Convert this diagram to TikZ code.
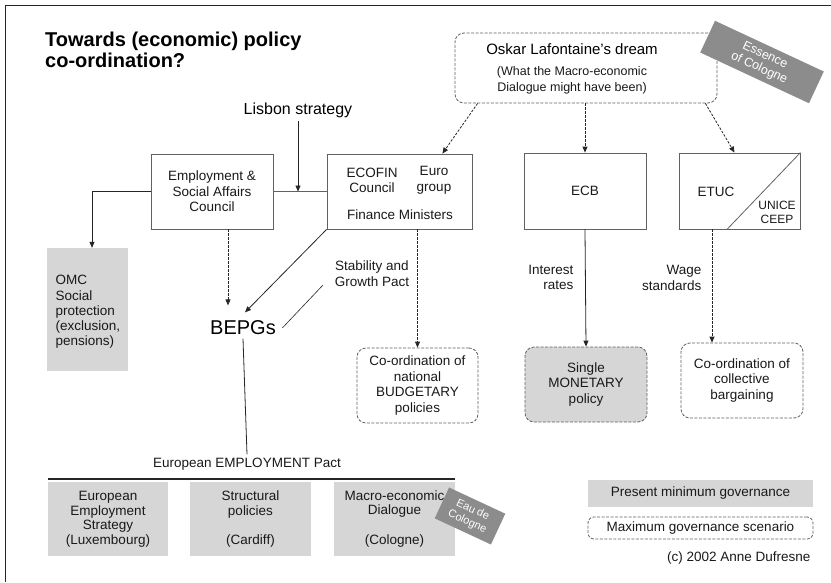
\documentclass[tikz,border=0pt]{standalone}
\usepackage{fontspec}
\setmainfont{Liberation Sans}
\usetikzlibrary{arrows.meta,calc}
\definecolor{tagg}{gray}{0.55}
\definecolor{boxg}{gray}{0.84}
\definecolor{bord}{gray}{0.38}
\tikzset{
  arr/.style={-{Triangle[length=6pt,width=5pt]}, line width=0.8pt, black!85},
  darr/.style={arr, dash pattern=on 2.5pt off 1.5pt},
  box/.style={draw=bord, line width=0.8pt, inner sep=0pt},
  dbox/.style={draw=bord, line width=0.8pt, dash pattern=on 3pt off 1.5pt, rounded corners=9pt, inner sep=0pt},
  gbox/.style={fill=boxg, draw=none, inner sep=0pt},
  txt/.style={font=\fontsize{13.5}{15.5}\selectfont, align=center, text=black!90},
  tagbox/.style={fill=tagg, text=white, align=center, rotate=-25, inner sep=0pt},
  plain/.style={draw=bord, line width=0.8pt}
}
\begin{document}
\begin{tikzpicture}[x=1pt,y=-1pt]
\useasboundingbox (0,0) rectangle (831,582);
\draw[line width=1pt, black!85] (5,582) -- (5,5) -- (831,5);

% title
\node[anchor=base west, inner sep=0pt, font=\bfseries\fontsize{20}{21}\selectfont] (title1) at (45,46) {Towards (economic) policy};
\node[anchor=base west, inner sep=0pt, font=\bfseries\fontsize{20}{21}\selectfont] (title2) at (45,67) {co-ordination?};

% Oskar
\node[dbox, minimum width=262pt, minimum height=70pt] (osk) at (586,68) {};
\node[font=\fontsize{15}{18}\selectfont] (oskt) at (572,49) {Oskar Lafontaine's dream};
\node[txt, font=\fontsize{12.5}{16}\selectfont] (osks) at (572,80) {(What the Macro-economic\\Dialogue might have been)};
\node[tagbox, minimum width=120pt, minimum height=35pt, font=\fontsize{12.5}{14}\selectfont] (ess) at (762,62) {Essence\\of Cologne};

% Lisbon
\node[font=\fontsize{16}{18}\selectfont] (lis) at (298,110) {Lisbon strategy};

% councils
\node[box, txt, minimum width=122pt, minimum height=75pt] (emp) at (212,191.5) {Employment \&\\Social Affairs\\Council};
\node[box, minimum width=145pt, minimum height=75pt] (eco) at (399.5,191.5) {};
\node[txt] (ecoc) at (372,180.5) {ECOFIN\\Council};
\node[txt] (euro) at (434,180.5) {Euro\\group};
\node[txt] (fin) at (400,215) {Finance Ministers};
\node[box, txt, minimum width=122pt, minimum height=76pt] (ecb) at (585,191) {ECB};
\node[box, minimum width=121pt, minimum height=76pt] (etuc) at (739.5,191) {};
\node[txt] (etuct) at (716,192) {ETUC};
\node[txt, font=\fontsize{12}{13.5}\selectfont] (unice) at (777,212.5) {UNICE\\CEEP};
\draw[plain] ([xshift=-12.5pt]etuc.south) -- (etuc.north east);

% OMC
\node[gbox, minimum width=81pt, minimum height=123pt] (omc) at (87.5,309.5) {};
\node[txt, align=left, anchor=west, font=\fontsize{13.5}{15.3}\selectfont] (omct) at (52,312) {OMC\\Social\\protection\\(exclusion,\\pensions)};

% BEPGs
\node[font=\fontsize{20}{22}\selectfont] (bepg) at (243,328) {BEPGs};
\node[txt] (sgp) at (372,273.5) {Stability and\\Growth Pact};

% outcome boxes
\node[dbox, txt, minimum width=121pt, minimum height=75pt] (bud) at (417.5,385.5) {Co-ordination of\\national\\BUDGETARY\\policies};
\node[dbox, fill=boxg, txt, minimum width=122pt, minimum height=75pt] (mon) at (586,384.5) {Single\\MONETARY\\policy};
\node[dbox, txt, minimum width=122pt, minimum height=75pt] (coll) at (742,380.5) {Co-ordination of\\collective\\bargaining};
\node[txt, align=right, anchor=east] (ir) at (577,277.5) {Interest\\rates};
\node[txt, align=right, anchor=east] (wage) at (705,278) {Wage\\standards};

% employment pact
\node[txt] (eep) at (247,464) {European EMPLOYMENT Pact};
\node[gbox, txt, font=\fontsize{13.5}{14.5}\selectfont, minimum width=120pt, minimum height=74pt] (b1) at (108,519) {European\\Employment\\Strategy\\(Luxembourg)};
\node[gbox, txt, font=\fontsize{13.5}{14.5}\selectfont, minimum width=121pt, minimum height=74pt] (b2) at (250.5,519) {Structural\\policies\\[15pt](Cardiff)};
\node[gbox, txt, font=\fontsize{13.5}{14.5}\selectfont, minimum width=121pt, minimum height=74pt] (b3) at (394.5,519) {Macro-economic\\Dialogue\\[15pt](Cologne)};
\node[tagbox, minimum width=62pt, minimum height=34pt, font=\fontsize{11}{13}\selectfont] (eau) at (470,516) {Eau de\\Cologne};
\draw[line width=2.2pt, black!85] ([yshift=3pt]b1.north west) -- ([yshift=3pt]b3.north east);

% legend
\node[gbox, txt, minimum width=225pt, minimum height=27pt] (lg1) at (700.5,493.5) {Present minimum governance};
\node[dbox, txt, rounded corners=6pt, minimum width=225pt, minimum height=22pt] (lg2) at (700.5,528) {Maximum governance scenario};
\node[txt, anchor=east] (copy) at (814,558) {(c) 2002 Anne Dufresne};

% connectors
\coordinate (o1) at ([xshift=23pt]osk.south west);
\coordinate (e1) at ([xshift=-30pt]eco.north east);
\draw[darr] (o1) -- (e1);
\draw[darr] (osk.south -| ecb.north) -- (ecb.north);
\coordinate (o3) at ([xshift=-12pt]osk.south east);
\coordinate (t3) at ([xshift=-5pt]etuc.north);
\draw[darr] (o3) -- (t3);

\draw[arr] (lis) -- (lis |- emp.east);
\draw[plain] (emp.east) -- (eco.west);
\coordinate (omcin) at ([xshift=4.5pt]omc.north);
\draw[arr] (emp.west) -| (omcin);

\draw[arr] (eco.south west) -- ([xshift=2pt,yshift=5pt]bepg.north);
\draw[darr] ([xshift=16pt]emp.south) -- ([xshift=-15pt,yshift=12pt]bepg.north);
\coordinate (sgpl) at (323,285);
\coordinate (bepgr) at ([xshift=3pt]bepg.east);
\draw[line width=0.6pt, black!85] (sgpl) -- (bepgr);
\draw[darr] (eco.south -| bud.north) -- (bud.north);
\draw[arr] (ecb.south) -- (mon.north);
\coordinate (etucL) at ([xshift=-27.5pt]etuc.south);
\draw[darr] (etucL) -- (etucL |- coll.north);
\draw[line width=0.8pt, black!85] (bepg.south) -- (eep.north);
\end{tikzpicture}
\end{document}
